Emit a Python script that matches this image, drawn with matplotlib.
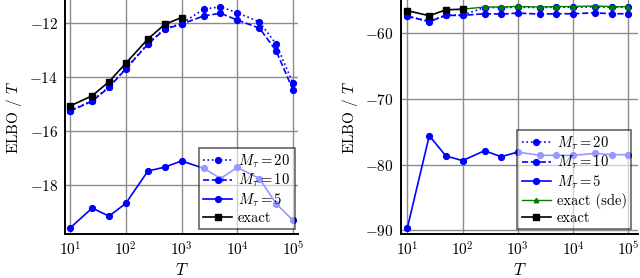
import matplotlib
matplotlib.use("Agg")
import matplotlib.pyplot as plt
from matplotlib.ticker import FixedLocator, FixedFormatter, NullLocator

plt.rcParams['font.family'] = ['cmr10', 'DejaVu Serif']
plt.rcParams['mathtext.fontset'] = 'cm'
plt.rcParams['axes.unicode_minus'] = False
plt.rcParams['font.size'] = 10

T = [10, 25, 50, 100, 250, 500, 1000, 2500, 5000, 10000, 25000, 50000, 100000]

# Left panel
left_m20 = [-15.24, -14.87, -14.36, -13.68, -12.76, -12.21, -12.02, -11.49, -11.40, -11.62, -11.96, -12.78, -14.23]
left_m10 = [-15.26, -14.89, -14.38, -13.70, -12.78, -12.23, -12.04, -11.74, -11.64, -11.89, -12.19, -13.03, -14.48]
left_m5 = [-19.58, -18.84, -19.14, -18.67, -17.47, -17.33, -17.10, -17.37, -17.75, -17.34, -17.75, -18.68, -19.30]
left_T_exact = [10, 25, 50, 100, 250, 500, 1000]
left_exact = [-15.07, -14.69, -14.17, -13.49, -12.59, -12.05, -11.80]

# Right panel
right_m20 = [-57.35, -58.15, -57.2, -57.2, -56.05, -56.05, -56.0, -56.05, -56.0, -56.0, -55.95, -56.0, -56.0]
right_m10 = [-57.4, -58.2, -57.25, -57.25, -57.0, -57.05, -56.9, -57.05, -57.0, -57.0, -56.85, -57.0, -57.0]
right_m5 = [-89.7, -75.6, -78.7, -79.4, -77.9, -78.8, -78.1, -78.6, -78.6, -78.6, -78.3, -78.5, -78.5]
right_T_sde = [100, 250, 500, 1000, 2500, 5000, 10000, 25000, 50000, 100000]
right_sde = [-56.3, -55.97, -55.97, -55.88, -55.97, -55.9, -55.9, -55.8, -55.92, -55.92]
right_T_exact = [10, 25, 50, 100]
right_exact = [-56.53, -57.3, -56.4, -56.3]

xticks = [10, 100, 1000, 10000, 100000]
xticklabels = [r'$10^{1}$', r'$10^{2}$', r'$10^{3}$', r'$10^{4}$', r'$10^{5}$']
left_yticks = [-18, -16, -14, -12]
right_yticks = [-90, -80, -70, -60]

BLUE = (0, 0, 1)
fig = plt.figure(figsize=(6.4, 2.78), dpi=100)
axL = fig.add_axes([65/640, 44/278, 233/640, 234/278])
axR = fig.add_axes([401/640, 44/278, 237/640, 234/278])

ms = 4.2
lw = 1.2

def style(ax, yticks, xlim, ylim):
    ax.set_xscale('log')
    ax.set_xlim(*xlim)
    ax.set_ylim(*ylim)
    ax.xaxis.set_major_locator(FixedLocator(xticks))
    ax.xaxis.set_major_formatter(FixedFormatter(xticklabels))
    ax.xaxis.set_minor_locator(NullLocator())
    ax.yaxis.set_major_locator(FixedLocator(yticks))
    ax.yaxis.set_major_formatter(FixedFormatter([r'$%d$' % v if v >= 0 else r'$-%d$' % (-v) for v in yticks]))
    ax.grid(True, color='#8c8c8c', lw=1.0)
    ax.set_axisbelow(True)
    for s in ['top', 'right']:
        ax.spines[s].set_visible(False)
    for s in ['left', 'bottom']:
        ax.spines[s].set_linewidth(1.4)
    ax.tick_params(length=0, pad=5, labelsize=11)
    ax.set_xlabel(r'$T$', fontsize=12, labelpad=2)
    ax.set_ylabel(r'ELBO / $T$', fontsize=11, labelpad=4)

# Left
axL.plot(T, left_m20, ls=':', marker='o', color=BLUE, ms=ms, lw=lw, label=r'$M_\tau = 20$')
axL.plot(T, left_m10, ls='--', marker='o', color=BLUE, ms=ms, lw=lw, label=r'$M_\tau = 10$')
axL.plot(T, left_m5, ls='-', marker='o', color=BLUE, ms=ms, lw=lw, label=r'$M_\tau = 5$')
axL.plot(left_T_exact, left_exact, ls='-', marker='s', color='black', ms=ms, lw=lw, label='exact')
style(axL, left_yticks, (10**0.91, 10**5.09), (-19.8, -11.15))
legL = axL.legend(loc='lower right', bbox_to_anchor=(0.985, 0.02), frameon=True, fancybox=False,
                  edgecolor='black', framealpha=0.6, fontsize=10.5, handlelength=2.0,
                  handletextpad=0.4, borderpad=0.3, labelspacing=0.15, borderaxespad=0.0)
legL.get_frame().set_linewidth(1.2)

# Right
axR.plot(T, right_m20, ls=':', marker='o', color=BLUE, ms=ms, lw=lw, label=r'$M_\tau = 20$')
axR.plot(T, right_m10, ls='--', marker='o', color=BLUE, ms=ms, lw=lw, label=r'$M_\tau = 10$')
axR.plot(T, right_m5, ls='-', marker='o', color=BLUE, ms=ms, lw=lw, label=r'$M_\tau = 5$')
axR.plot(right_T_sde, right_sde, ls='-', marker='^', color='#007f00', ms=3.2, lw=1.0, label='exact (sde)')
axR.plot(right_T_exact, right_exact, ls='-', marker='s', color='black', ms=ms, lw=lw, label='exact')
style(axR, right_yticks, (10**0.886, 10**5.176), (-90.6, -54.9))
legR = axR.legend(loc='lower right', bbox_to_anchor=(0.97, 0.02), frameon=True, fancybox=False,
                  edgecolor='black', framealpha=0.6, fontsize=10.5, handlelength=2.0,
                  handletextpad=0.4, borderpad=0.3, labelspacing=0.15, borderaxespad=0.0)
legR.get_frame().set_linewidth(1.2)

fig.savefig('out.png', dpi=100)
